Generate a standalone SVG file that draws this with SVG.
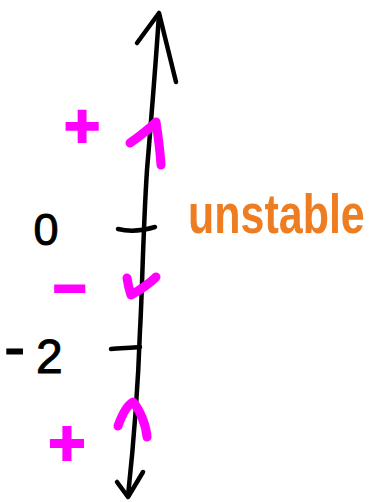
<svg xmlns="http://www.w3.org/2000/svg" width="378" height="502" viewBox="0 0 378 502">
<style>
.ink{fill:none;stroke:#000;stroke-width:4.5;stroke-linecap:round;stroke-linejoin:round}
.mag{fill:none;stroke:#FF00FF;stroke-width:9;stroke-linecap:round;stroke-linejoin:round}
.lbl{font-family:"Liberation Sans",Arial,sans-serif;fill:#000;stroke:#000;stroke-width:1}
.sign{font-family:"Liberation Sans",Arial,sans-serif;font-weight:bold;fill:#FF00FF;stroke:#FF00FF;stroke-width:2;text-anchor:middle}
</style>
<rect width="378" height="502" fill="#fff"/>
<g id="connectors">
<path class="ink" d="M159,14 C156,60 152,110 147,170 C143,230 142,300 140,330 C138,390 134,440 128,496"/>
<path class="ink" d="M137,43 L159,13 L176,82"/>
<path class="ink" d="M117,482 L128,497 L143,472"/>
</g>
<g id="tick-0"><path class="ink" d="M118,229 C130,232 145,230 155,227"/></g>
<g id="tick-neg2"><path class="ink" d="M111,349 C120,348 130,348 140,347"/></g>
<g id="label-0"><text class="lbl" x="46" y="245" font-size="45" text-anchor="middle">0</text></g>
<g id="label-neg2"><text class="lbl" x="4" y="373" font-size="48"><tspan font-size="64" dy="-4">-</tspan><tspan x="36" dy="4">2</tspan></text></g>
<g id="sign-top"><text class="sign" x="82" y="147" font-size="62">+</text></g>
<g id="sign-mid"><text class="sign" x="70" y="308" font-size="58">−</text></g>
<g id="sign-bot"><text class="sign" x="67" y="465" font-size="64">+</text></g>
<g id="arrow-top"><path class="mag" d="M130,143 C140,136 150,128 156,122 C158,135 160,150 161,165"/></g>
<g id="arrow-mid"><path class="mag" d="M127,278 C128,285 130,292 131,295 C140,290 150,283 156,277"/></g>
<g id="arrow-bot"><path class="mag" d="M118,426 C122,415 127,405 133,402 C140,410 146,425 147,437"/></g>
<g id="label-unstable"><text transform="translate(188,233) scale(1,1.3)" x="0" y="0" font-family="'Liberation Sans',Arial,sans-serif" font-weight="bold" font-size="43" fill="#EE7D22">unstable</text></g>
</svg>
